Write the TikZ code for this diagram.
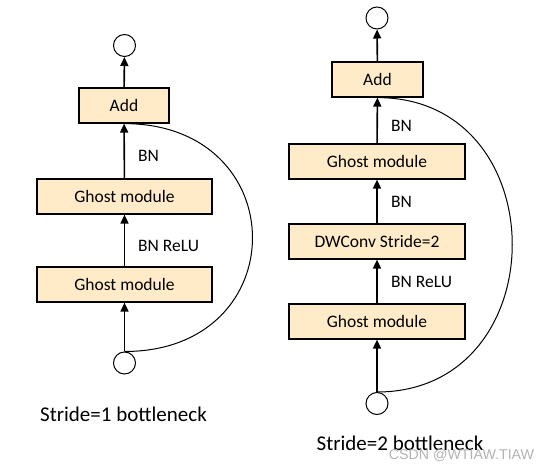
\documentclass[tikz,border=0pt]{standalone}
\usepackage{fontspec}
\setmainfont{Carlito}
\newfontfamily\markfont{Liberation Sans}
\usepackage{tikz}
\usetikzlibrary{positioning,arrows.meta}
\definecolor{boxfill}{RGB}{255,235,200}

\begin{document}
\begin{tikzpicture}[x=1pt,y=1pt,>={Triangle[length=9pt,width=8pt]}]
        \tikzstyle{block}=[draw, line width=1.2pt, fill=boxfill, minimum height=35pt, inner sep=0pt, font=\fontsize{17.5}{20}\selectfont]
        \tikzstyle{dot}=[draw, circle, line width=1pt, minimum size=22pt, inner sep=0pt]
        \tikzstyle{lbl}=[anchor=west, inner sep=0pt, font=\fontsize{17.5}{20}\selectfont]
        \tikzstyle{flow}=[->, line width=1.6pt]
        \useasboundingbox (0,0) rectangle (550,472);

        % stride 1
        \node (out1)   [dot] at (124.5,426.5) {};
        \node (add1)   [block, minimum width=90pt] at (124,366.5) {Add};
        \node (ghost12) [block, minimum width=175pt] at (124.5,275.5) {Ghost module};
        \node (ghost11) [block, minimum width=175pt] at (124.5,187.5) {Ghost module};
        \node (in1)    [dot] at (124.5,109) {};
        \node (bn1)    [lbl] at (138,316) {BN};
        \node (relu1)  [lbl] at (138,226) {BN ReLU};
        \node (cap1)   [font=\fontsize{21}{24}\selectfont] at (123.5,58) {Stride=1 bottleneck};

        \draw[flow] (in1) -- (ghost11);
        \draw[flow] (ghost11) -- (ghost12);
        \draw[flow] (ghost12) -- (add1);
        \draw[flow] (add1) -- (out1);
        \draw[line width=1pt] (add1.south) .. controls +(171,0) and +(171,0) .. (in1.north);

        % stride 2
        \node (out2)   [dot] at (377,454) {};
        \node (add2)   [block, minimum width=91pt] at (377.5,392.5) {Add};
        \node (ghost22) [block, minimum width=176pt] at (377,310.5) {Ghost module};
        \node (dw2)    [block, minimum width=176pt] at (377,230.5) {DWConv Stride=2};
        \node (ghost21) [block, minimum width=176pt] at (377,150.5) {Ghost module};
        \node (in2)    [dot] at (377,68.5) {};
        \node (bn2a)   [lbl] at (391,346) {BN};
        \node (bn2b)   [lbl] at (391,270) {BN};
        \node (relu2)  [lbl] at (391,190) {BN ReLU};
        \node (cap2)   [font=\fontsize{21}{24}\selectfont] at (400,29) {Stride=2 bottleneck};

        \draw[flow] (in2) -- (ghost21);
        \draw[flow] (ghost21) -- (dw2);
        \draw[flow] (dw2) -- (ghost22);
        \draw[flow] (ghost22) -- (add2);
        \draw[flow] (add2) -- (out2);
        \draw[line width=1pt] (add2.south) .. controls +(180,0) and +(180,0) .. (in2.north);

        \node (mark) [text=gray!60, font=\markfont\fontsize{14.2}{16}\selectfont] at (461.5,17) {CSDN @WTIAW.TIAW};
    \end{tikzpicture}
\end{document}
